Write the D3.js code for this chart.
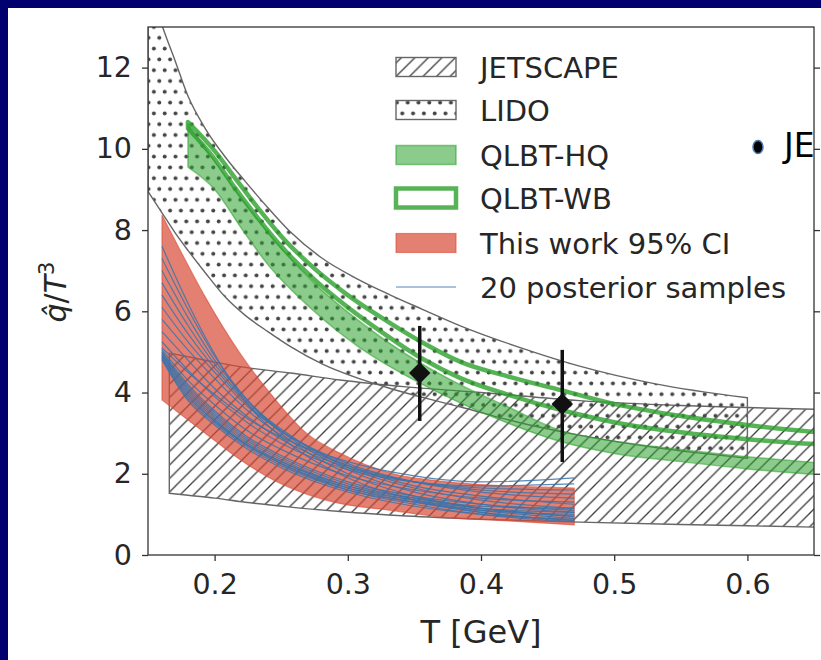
<!DOCTYPE html>
<html>
<head>
<meta charset="utf-8">
<script src="https://cdn.jsdelivr.net/npm/d3@7"></script>
<style>
  body { margin: 0; background: #00006e; }
  svg { display: block; }
  text { font-family: "DejaVu Sans", sans-serif; fill: #262626; }
</style>
</head>
<body>
<svg id="chart" width="821" height="660"></svg>
<script>
// ---- data ----
var xTicks = [0.2, 0.3, 0.4, 0.5, 0.6];
var yTicks = [0, 2, 4, 6, 8, 10, 12];

// JETSCAPE band
var jetT  = [0.166, 0.18, 0.2, 0.223, 0.257, 0.294, 0.344, 0.4, 0.474, 0.55, 0.6, 0.66];
var jetHi = [4.97, 4.88, 4.75, 4.62, 4.48, 4.31, 4.14, 4.0, 3.8, 3.68, 3.63, 3.58];
var jetLo = [1.52, 1.47, 1.4, 1.3, 1.18, 1.07, 0.96, 0.88, 0.81, 0.75, 0.72, 0.68];

// LIDO band
var lidoT  = [0.15, 0.161, 0.17, 0.18, 0.193, 0.208, 0.223, 0.24, 0.257, 0.281, 0.307, 0.332, 0.356, 0.384, 0.43, 0.474, 0.53, 0.6];
var lidoHi = [14.2, 13.0, 12.2, 11.3, 10.5, 9.8, 9.2, 8.55, 7.95, 7.3, 6.8, 6.4, 6.05, 5.65, 5.1, 4.65, 4.22, 3.87];
var lidoLo = [8.95, 8.4, 7.95, 7.5, 6.95, 6.35, 5.9, 5.5, 5.13, 4.7, 4.36, 4.1, 3.88, 3.65, 3.25, 2.95, 2.65, 2.38];

// QLBT-HQ band
var hqT  = [0.18, 0.2, 0.221, 0.24, 0.273, 0.307, 0.332, 0.356, 0.384, 0.42, 0.461, 0.5, 0.55, 0.6, 0.66];
var hqHi = [10.6, 9.7, 8.75, 7.95, 6.75, 5.8, 5.2, 4.7, 4.2, 3.65, 3.05, 2.8, 2.6, 2.42, 2.25];
var hqLo = [9.55, 9.0, 8.0, 7.15, 6.05, 5.15, 4.63, 4.2, 3.75, 3.25, 2.78, 2.5, 2.3, 2.12, 1.96];

// QLBT-WB band
var wbT  = [0.18, 0.2, 0.215, 0.23, 0.25, 0.275, 0.3, 0.325, 0.355, 0.385, 0.42, 0.46, 0.5, 0.55, 0.6, 0.66];
var wbHi = [10.66, 9.95, 9.3, 8.65, 7.85, 7.05, 6.4, 5.85, 5.25, 4.75, 4.4, 4.06, 3.72, 3.42, 3.2, 3.0];
var wbLo = [10.5, 9.75, 9.05, 8.4, 7.6, 6.78, 6.1, 5.5, 4.85, 4.35, 3.95, 3.57, 3.27, 3.02, 2.85, 2.71];

// This work 95% CI
var ciT  = [0.1605, 0.175, 0.193, 0.219, 0.244, 0.269, 0.294, 0.332, 0.369, 0.42, 0.47];
var ciHi = [8.37, 7.45, 6.35, 4.97, 3.89, 3.0, 2.51, 2.02, 1.82, 1.7, 1.65];
var ciLo = [3.82, 3.45, 3.0, 2.35, 1.85, 1.5, 1.27, 1.1, 0.94, 0.84, 0.74];

// 20 posterior samples
var sampT = [0.1605, 0.18, 0.2, 0.225, 0.25, 0.3, 0.35, 0.4, 0.47];
var samples = [
  [7.6, 6.2, 4.95, 3.7, 2.9, 1.9, 1.35, 1.05, 0.85],
  [7.3, 6.05, 4.9, 3.8, 3.0, 2.0, 1.45, 1.15, 0.95],
  [7.0, 5.85, 4.8, 3.8, 3.05, 2.1, 1.55, 1.25, 1.05],
  [6.7, 5.65, 4.7, 3.75, 3.1, 2.15, 1.65, 1.35, 1.15],
  [6.4, 5.45, 4.6, 3.7, 3.05, 2.2, 1.7, 1.45, 1.25],
  [6.1, 5.25, 4.5, 3.65, 3.05, 2.25, 1.8, 1.55, 1.4],
  [5.8, 5.05, 4.35, 3.55, 2.95, 2.2, 1.8, 1.6, 1.5],
  [5.5, 4.8, 4.1, 3.4, 2.85, 2.15, 1.8, 1.65, 1.6],
  [5.25, 4.55, 3.9, 3.25, 2.75, 2.1, 1.8, 1.7, 1.75],
  [5.1, 4.5, 3.95, 3.35, 2.9, 2.3, 1.95, 1.8, 1.9],
  [5.05, 4.3, 3.7, 3.05, 2.6, 1.95, 1.6, 1.4, 1.3],
  [5.0, 4.2, 3.55, 2.9, 2.45, 1.8, 1.45, 1.25, 1.1],
  [4.98, 4.15, 3.5, 2.85, 2.4, 1.75, 1.4, 1.15, 0.95],
  [4.95, 4.1, 3.45, 2.8, 2.35, 1.7, 1.35, 1.1, 0.9],
  [4.92, 4.05, 3.4, 2.75, 2.3, 1.65, 1.3, 1.05, 0.85],
  [4.9, 4.0, 3.35, 2.7, 2.25, 1.6, 1.25, 1.0, 0.82],
  [4.87, 3.95, 3.3, 2.7, 2.25, 1.65, 1.35, 1.15, 1.05],
  [4.85, 3.9, 3.3, 2.7, 2.3, 1.7, 1.4, 1.2, 1.15],
  [4.82, 3.85, 3.25, 2.65, 2.2, 1.6, 1.3, 1.1, 1.0],
  [4.8, 3.8, 3.2, 2.6, 2.15, 1.55, 1.2, 1.0, 0.88]
];

// data points with error bars
var ptT   = [0.354, 0.461];
var ptQ   = [4.48, 3.72];
var ptLo  = [3.3, 2.29];
var ptHi  = [5.64, 5.05];

var legendLabels = ["JETSCAPE", "LIDO", "QLBT-HQ", "QLBT-WB", "This work 95% CI", "20 posterior samples"];

// ---- drawing ----
var svg = d3.select("#chart");
svg.append("rect").attr("width", 821).attr("height", 660).attr("fill", "#00006e");
svg.append("rect").attr("x", 8).attr("y", 8).attr("width", 813).attr("height", 652).attr("fill", "#fff");

var x = d3.scaleLinear().domain([0.15, 0.65]).range([148, 814]);
var y = d3.scaleLinear().domain([0, 13]).range([555, 27]);

var green = "#2ca02c", red = "#d84a35", blue = "#3a74ad";

var defs = svg.append("defs");
defs.append("clipPath").attr("id", "plot")
  .append("rect").attr("x", 148).attr("y", 27).attr("width", 666).attr("height", 528);

var hatch = defs.append("pattern").attr("id", "hatch")
  .attr("patternUnits", "userSpaceOnUse").attr("width", 13.5).attr("height", 13.5);
hatch.append("path")
  .attr("d", "M0,13.5L13.5,0M-3,3L3,-3M10.5,16.5L16.5,10.5")
  .attr("stroke", "#3a3a3a").attr("stroke-width", 1.3);

var dots = defs.append("pattern").attr("id", "dots")
  .attr("patternUnits", "userSpaceOnUse").attr("width", 10.8).attr("height", 21.6);
dots.append("circle").attr("cx", 2.7).attr("cy", 5.4).attr("r", 2).attr("fill", "#444");
dots.append("circle").attr("cx", 8.1).attr("cy", 16.2).attr("r", 2).attr("fill", "#444");

function band(T, lo, hi) {
  return d3.area()
    .x(function(d, i) { return x(T[i]); })
    .y0(function(d, i) { return y(lo[i]); })
    .y1(function(d, i) { return y(hi[i]); })
    .curve(d3.curveMonotoneX)(T);
}

var plot = svg.append("g").attr("clip-path", "url(#plot)");

plot.append("path").attr("d", band(jetT, jetLo, jetHi))
  .attr("fill", "url(#hatch)").attr("stroke", "#666").attr("stroke-width", 1.4);
plot.append("path").attr("d", band(lidoT, lidoLo, lidoHi))
  .attr("fill", "url(#dots)").attr("stroke", "#666").attr("stroke-width", 1.4);
plot.append("path").attr("d", band(hqT, hqLo, hqHi))
  .attr("fill", green).attr("fill-opacity", 0.55)
  .attr("stroke", green).attr("stroke-opacity", 0.55).attr("stroke-width", 1.5);
plot.append("path").attr("d", band(wbT, wbLo, wbHi))
  .attr("fill", "none").attr("stroke", green).attr("stroke-opacity", 0.8)
  .attr("stroke-width", 4.5).attr("stroke-linejoin", "round");
plot.append("path").attr("d", band(ciT, ciLo, ciHi))
  .attr("fill", red).attr("fill-opacity", 0.7)
  .attr("stroke", red).attr("stroke-opacity", 0.6).attr("stroke-width", 1.2);

var sampLine = d3.line()
  .x(function(d, i) { return x(sampT[i]); })
  .y(function(d) { return y(d); })
  .curve(d3.curveMonotoneX);
plot.selectAll(".samp").data(samples).enter().append("path")
  .attr("class", "samp")
  .attr("d", sampLine)
  .attr("fill", "none").attr("stroke", blue).attr("stroke-opacity", 0.85).attr("stroke-width", 1.2);

// error bars and diamonds
plot.selectAll(".err").data(ptT).enter().append("line")
  .attr("class", "err")
  .attr("x1", function(d) { return x(d); }).attr("x2", function(d) { return x(d); })
  .attr("y1", function(d, i) { return y(ptLo[i]); })
  .attr("y2", function(d, i) { return y(ptHi[i]); })
  .attr("stroke", "#111").attr("stroke-width", 3.5);
plot.selectAll(".pt").data(ptT).enter().append("path")
  .attr("class", "pt")
  .attr("d", d3.symbol(d3.symbolSquare).size(230))
  .attr("transform", function(d, i) { return "translate(" + x(d) + "," + y(ptQ[i]) + ") rotate(45)"; })
  .attr("fill", "#111");

// axes
var xAxis = svg.append("g").attr("transform", "translate(0,555)")
  .call(d3.axisBottom(x).tickValues(xTicks).tickSize(6).tickPadding(13).tickFormat(d3.format(".1f")));
var yAxis = svg.append("g").attr("transform", "translate(148,0)")
  .call(d3.axisLeft(y).tickValues(yTicks).tickSize(6).tickPadding(10).tickFormat(d3.format("d")));
var yAxisR = svg.append("g").attr("transform", "translate(814,0)")
  .call(d3.axisRight(y).tickValues(yTicks).tickSize(6).tickFormat(""));

[xAxis, yAxis, yAxisR].forEach(function(g) {
  g.select(".domain").remove();
  g.selectAll(".tick line").attr("stroke", "#333").attr("stroke-width", 1.3);
  g.selectAll(".tick text").attr("font-size", 28.5).attr("font-family", "DejaVu Sans").attr("fill", "#262626");
});

svg.append("rect").attr("x", 148).attr("y", 27).attr("width", 666).attr("height", 528)
  .attr("fill", "none").attr("stroke", "#333").attr("stroke-width", 1.3);

// axis labels
svg.append("text").attr("x", 481).attr("y", 643).attr("text-anchor", "middle")
  .attr("font-size", 32).text("T [GeV]");

var yl = svg.append("text").attr("transform", "translate(66,292) rotate(-90)")
  .attr("text-anchor", "middle").attr("font-size", 30);
yl.append("tspan").attr("font-style", "italic").text("q\u0302");
yl.append("tspan").text("/");
yl.append("tspan").attr("font-style", "italic").text("T");
yl.append("tspan").attr("dy", -12).attr("font-size", 21).text("3");

// legend
var legY = [67, 110, 155, 198, 243, 287];
var leg = svg.append("g");
legendLabels.forEach(function(label, i) {
  var cy = legY[i];
  if (i === 0) {
    leg.append("rect").attr("x", 396).attr("y", cy - 9.5).attr("width", 60).attr("height", 19)
      .attr("fill", "url(#hatch)").attr("stroke", "#666").attr("stroke-width", 1.4);
  } else if (i === 1) {
    leg.append("rect").attr("x", 396).attr("y", cy - 9.5).attr("width", 60).attr("height", 19)
      .attr("fill", "url(#dots)").attr("stroke", "#666").attr("stroke-width", 1.4);
  } else if (i === 2) {
    leg.append("rect").attr("x", 396).attr("y", cy - 9.5).attr("width", 60).attr("height", 19)
      .attr("fill", green).attr("fill-opacity", 0.55)
      .attr("stroke", green).attr("stroke-opacity", 0.55).attr("stroke-width", 1.5);
  } else if (i === 3) {
    leg.append("rect").attr("x", 396).attr("y", cy - 9.5).attr("width", 60).attr("height", 19)
      .attr("fill", "none").attr("stroke", green).attr("stroke-opacity", 0.8).attr("stroke-width", 4.5);
  } else if (i === 4) {
    leg.append("rect").attr("x", 396).attr("y", cy - 9.5).attr("width", 60).attr("height", 19)
      .attr("fill", red).attr("fill-opacity", 0.7)
      .attr("stroke", red).attr("stroke-opacity", 0.6).attr("stroke-width", 1.2);
  } else {
    leg.append("line").attr("x1", 396).attr("x2", 456).attr("y1", cy).attr("y2", cy)
      .attr("stroke", blue).attr("stroke-opacity", 0.85).attr("stroke-width", 1.2);
  }
  leg.append("text").attr("x", 480).attr("y", cy + 10.5).attr("font-size", 29).text(label);
});

// slide bullet peeking out on the right
svg.append("ellipse").attr("cx", 758).attr("cy", 147).attr("rx", 5).attr("ry", 6.5)
  .attr("fill", "#000").attr("stroke", "#4a7ab8").attr("stroke-width", 1.5);
svg.append("text").attr("x", 784).attr("y", 157).attr("font-size", 33)
  .attr("font-family", "Open Sans").style("fill", "#000").text("JE");
</script>
</body>
</html>
